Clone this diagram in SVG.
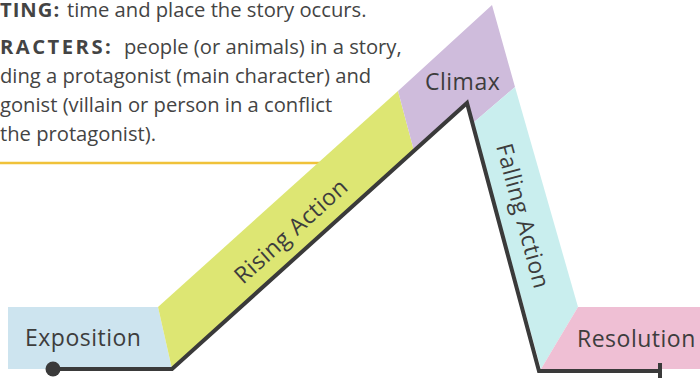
<svg xmlns="http://www.w3.org/2000/svg" width="700" height="378" viewBox="0 0 700 378">
<style>
.body{font-family:"Open Sans","Liberation Sans",sans-serif;font-size:20.2px;fill:#444444}
.head{font-weight:bold;letter-spacing:2.5px}
.head1{font-weight:bold;letter-spacing:1px}
.lbl{font-family:"Open Sans","Liberation Sans",sans-serif;font-size:23px;letter-spacing:0.5px;fill:#3d3d3d}
.arc{fill:none;stroke:#3a3a3a;stroke-width:4;stroke-linejoin:miter}
</style>
<rect width="700" height="378" fill="#ffffff"/>
<g id="notes">
<text class="body" x="0" y="16.5"><tspan class="head1">TING:</tspan><tspan x="67">time and place the story occurs.</tspan></text>
<text class="body" x="0" y="54"><tspan class="head">RACTERS:</tspan><tspan x="124">people (or animals) in a story,</tspan></text>
<text class="body" x="0" y="83">ding a protagonist (main character) and</text>
<text class="body" x="0" y="112">gonist (villain or person in a conflict</text>
<text class="body" x="0" y="141">the protagonist).</text>
<line x1="0" y1="163" x2="320" y2="163" stroke="#f0c23a" stroke-width="2.5"/>
</g>
<g id="exposition">
<polygon points="8,307 158,307 172,369 8,369" fill="#cde4ef"/>
<text class="lbl" x="25" y="346">Exposition</text>
</g>
<g id="rising-action">
<polygon points="158,307 398,91 414,151 172,369" fill="#dde673"/>
<text class="lbl" transform="translate(291,231) rotate(-42)" x="0" y="8" text-anchor="middle">Rising Action</text>
</g>
<g id="climax">
<polygon points="398,91 492,5 515,87 473,123 467,103 414,151" fill="#cfbcdc"/>
<text class="lbl" x="425" y="90">Climax</text>
</g>
<g id="falling-action">
<polygon points="515,87 578,307 541,369 473,123" fill="#c9eeee"/>
<text class="lbl" transform="translate(523,216) rotate(75)" x="0" y="8" text-anchor="middle">Falling Action</text>
</g>
<g id="resolution">
<polygon points="578,307 700,307 700,369 541,369" fill="#efbfd4"/>
<text class="lbl" x="577" y="347">Resolution</text>
</g>
<g id="connectors">
<polyline class="arc" points="53,369 172,369 467,103 539,371 660,371"/>
<line x1="660" y1="363" x2="660" y2="378" stroke="#3a3a3a" stroke-width="4"/>
<circle cx="53" cy="369" r="7.5" fill="#3a3a3a"/>
</g>
</svg>
